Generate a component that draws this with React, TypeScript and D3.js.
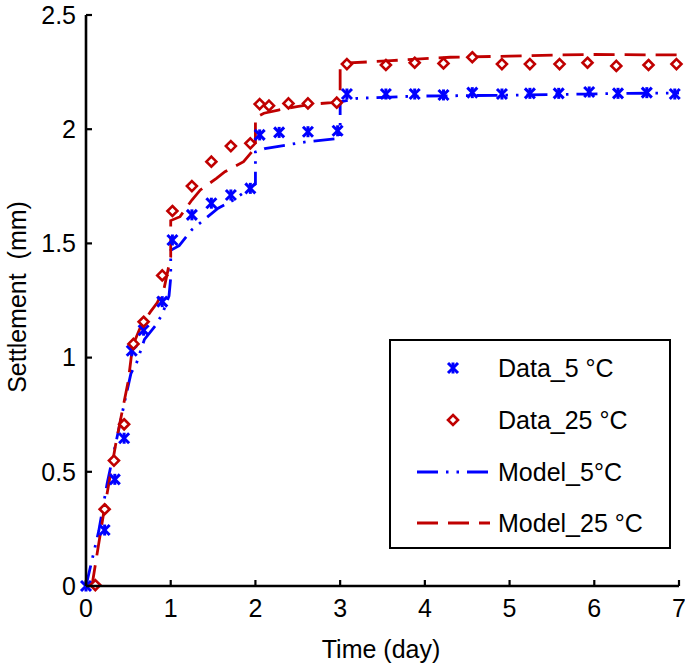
import React from "react";
import * as d3 from "d3";

// ---- Data ----
const xTicks = [0, 1, 2, 3, 4, 5, 6, 7];
const yTicks = [0, 0.5, 1, 1.5, 2, 2.5];
const yTickLabels = ["0", "0.5", "1", "1.5", "2", "2.5"];

const time5 = [0, 0.22, 0.34, 0.45, 0.54, 0.68, 0.9, 1.02, 1.25, 1.48, 1.71, 1.94, 2.05, 2.28, 2.62, 2.97, 3.08, 3.54, 3.88, 4.22, 4.56, 4.91, 5.24, 5.58, 5.94, 6.28, 6.62, 6.95];
const data5 = [0, 0.245, 0.467, 0.647, 1.03, 1.12, 1.245, 1.515, 1.625, 1.676, 1.712, 1.741, 1.975, 1.986, 1.989, 1.993, 2.154, 2.154, 2.154, 2.15, 2.16, 2.154, 2.157, 2.157, 2.163, 2.157, 2.16, 2.154];

const time25 = [0.11, 0.22, 0.33, 0.45, 0.56, 0.68, 0.9, 1.02, 1.25, 1.48, 1.71, 1.94, 2.05, 2.16, 2.39, 2.62, 2.96, 3.08, 3.54, 3.88, 4.22, 4.56, 4.91, 5.24, 5.59, 5.92, 6.26, 6.64, 6.97];
const data25 = [0.004, 0.336, 0.549, 0.708, 1.06, 1.157, 1.36, 1.642, 1.751, 1.858, 1.926, 1.938, 2.11, 2.103, 2.113, 2.113, 2.116, 2.285, 2.281, 2.291, 2.288, 2.315, 2.285, 2.285, 2.285, 2.291, 2.277, 2.281, 2.285];

const modelTime5 = [0, 0.15, 0.25, 0.47, 0.53, 0.6, 0.69, 0.82, 0.9, 0.98, 1.0, 1.0, 1.1, 1.25, 1.56, 1.74, 2.0, 2.0, 2.11, 2.37, 2.6, 3.0, 3.0, 3.2, 3.9, 4.5, 5.2, 5.9, 6.4, 7.0];
const model5 = [0, 0.24, 0.45, 0.83, 0.93, 0.98, 1.08, 1.14, 1.19, 1.27, 1.35, 1.47, 1.49, 1.56, 1.654, 1.69, 1.76, 1.9, 1.915, 1.931, 1.945, 1.96, 2.12, 2.135, 2.145, 2.147, 2.15, 2.154, 2.157, 2.158];

const modelTime25 = [0.07, 0.2, 0.35, 0.5, 0.55, 0.65, 0.76, 0.84, 0.92, 1.0, 1.0, 1.11, 1.25, 1.35, 1.54, 1.64, 1.86, 2.0, 2.0, 2.1, 2.27, 2.49, 2.68, 2.9, 3.0, 3.0, 3.1, 3.6, 3.9, 4.3, 5.0, 5.6, 6.0, 7.0];
const model25 = [0, 0.3, 0.62, 0.9, 1.05, 1.14, 1.2, 1.24, 1.3, 1.44, 1.6, 1.617, 1.69, 1.734, 1.785, 1.814, 1.858, 1.92, 2.05, 2.07, 2.084, 2.099, 2.11, 2.116, 2.12, 2.28, 2.29, 2.3, 2.307, 2.315, 2.32, 2.325, 2.327, 2.325];

const legendLabels = ["Data_5 °C", "Data_25 °C", "Model_5°C", "Model_25 °C"];

const BLUE = "#0000FF";
const RED = "#C00000";
const FONT = "'Liberation Sans', Arial, sans-serif";

function Asterisk({ x, y }: { x: number; y: number }) {
  return (
    <g transform={`translate(${x},${y})`} stroke={BLUE} strokeWidth={3} fill="none">
      <line x1={0} y1={-5.5} x2={0} y2={5.5} />
      <line x1={-5} y1={-5} x2={5} y2={5} />
      <line x1={-5} y1={5} x2={5} y2={-5} />
    </g>
  );
}

function Diamond({ x, y }: { x: number; y: number }) {
  const r = 5;
  return (
    <path
      d={`M${x},${y - r}L${x + r},${y}L${x},${y + r}L${x - r},${y}Z`}
      stroke={RED}
      strokeWidth={2.6}
      fill="white"
    />
  );
}

export default function App() {
  const W = 685, H = 666;
  const x = d3.scaleLinear().domain([0, 7]).range([86, 679]);
  const y = d3.scaleLinear().domain([0, 2.5]).range([586, 15]);

  const line = d3.line<[number, number]>().x((d) => x(d[0])).y((d) => y(d[1]));
  const m5 = line(modelTime5.map((t, i) => [t, model5[i]] as [number, number])) || "";
  const m25 = line(modelTime25.map((t, i) => [t, model25[i]] as [number, number])) || "";

  const dash5 = "21,8,2.5,8,2.5,8";
  const dash25 = "21,10";

  const lx0 = 417, lx1 = 490, lsym = 453, ltext = 498;
  const rows = [368, 420, 472, 523];

  return (
    <svg width={W} height={H} style={{ position: "absolute", left: 0, top: 0, background: "white" }} fontFamily={FONT}>
      <rect x={0} y={0} width={W} height={H} fill="white" />
      {/* model lines */}
      <path d={m5} fill="none" stroke={BLUE} strokeWidth={2.8} strokeDasharray={dash5} />
      <path d={m25} fill="none" stroke={RED} strokeWidth={2.8} strokeDasharray={dash25} />
      {/* data markers */}
      {time5.map((t, i) => (
        <Asterisk key={"a" + i} x={x(t)} y={y(data5[i])} />
      ))}
      {time25.map((t, i) => (
        <Diamond key={"d" + i} x={x(t)} y={y(data25[i])} />
      ))}
      {/* axes */}
      <line x1={x(0)} y1={y(0)} x2={x(7)} y2={y(0)} stroke="black" strokeWidth={2.6} />
      <line x1={x(0)} y1={y(0)} x2={x(0)} y2={y(2.5)} stroke="black" strokeWidth={2.6} />
      {xTicks.map((t) => (
        <g key={"xt" + t}>
          <line x1={x(t)} x2={x(t)} y1={y(0)} y2={y(0) - 6} stroke="black" strokeWidth={2.2} />
          <text x={x(t)} y={617} textAnchor="middle" fontSize={25} fill="black">
            {t}
          </text>
        </g>
      ))}
      {yTicks.map((v, i) => (
        <g key={"yt" + v}>
          <line x1={x(0)} x2={x(0) + 6} y1={y(v)} y2={y(v)} stroke="black" strokeWidth={2.2} />
          <text x={76} y={y(v)} dy="0.35em" textAnchor="end" fontSize={25} fill="black">
            {yTickLabels[i]}
          </text>
        </g>
      ))}
      <text x={381} y={658} textAnchor="middle" fontSize={25} fill="black">
        Time (day)
      </text>
      <text
        transform={`translate(26,${297}) rotate(-90)`}
        textAnchor="middle"
        fontSize={25}
        fill="black"
        style={{ whiteSpace: "pre" }}
      >
        {"Settlement  (mm)"}
      </text>
      {/* legend */}
      <rect x={390} y={340} width={280} height={208} fill="white" stroke="black" strokeWidth={2} />
      <Asterisk x={lsym} y={rows[0]} />
      <Diamond x={lsym} y={rows[1]} />
      <line x1={lx0} x2={lx1} y1={rows[2]} y2={rows[2]} stroke={BLUE} strokeWidth={2.8} strokeDasharray={dash5} />
      <line x1={lx0} x2={lx1} y1={rows[3]} y2={rows[3]} stroke={RED} strokeWidth={2.8} strokeDasharray={dash25} />
      {legendLabels.map((l, i) => (
        <text key={l} x={ltext} y={rows[i]} dy="0.35em" fontSize={25} fill="black">
          {l}
        </text>
      ))}
    </svg>
  );
}
